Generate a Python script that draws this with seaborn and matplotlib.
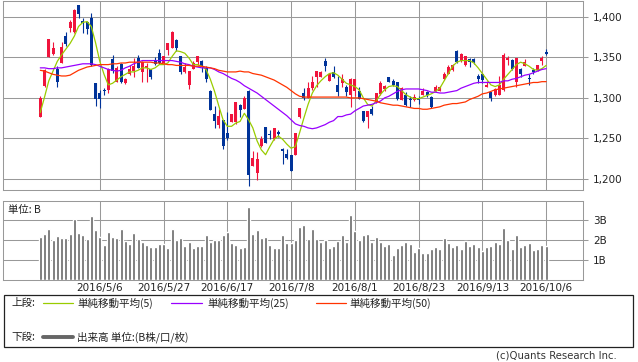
import numpy as np
import pandas as pd
import matplotlib
matplotlib.use('Agg')
import matplotlib.pyplot as plt
import seaborn as sns
from matplotlib.patches import Rectangle
from matplotlib.lines import Line2D

# daily candles (trading days, index 0 = first day shown)
opens = [1277, 1315, 1350, 1354, 1336, 1343, 1376, 1386, 1381, 1414,
         1395, 1394, 1398, 1318, 1306, 1310, 1310, 1348, 1320, 1342,
         1318, 1330, 1333, 1349, 1332, 1337, 1335, 1346, 1355, 1343,
         1359, 1362, 1371, 1352, 1332, 1316, 1336, 1344, 1345, 1337,
         1309, 1280, 1267, 1273, 1257, 1270, 1270, 1291, 1286, 1309,
         1216, 1208, 1241, 1264, 1255, 1249, 1258, 1237, 1231, 1230,
         1230, 1277, 1306, 1300, 1312, 1326, 1326, 1345, 1321, 1332,
         1316, 1318, 1314, 1303, 1309, 1308, 1284, 1277, 1286, 1295,
         1305, 1311, 1326, 1321, 1319, 1298, 1303, 1299, 1297, 1300,
         1304, 1307, 1301, 1309, 1309, 1323, 1330, 1334, 1358, 1345,
         1341, 1348, 1348, 1327, 1329, 1314, 1307, 1304, 1304, 1310,
         1347, 1347, 1320, 1336, 1339, 1324, 1334, 1334, 1345, 1356]
highs = [1302, 1335, 1372, 1369, 1339, 1369, 1381, 1396, 1409, 1414,
         1399, 1395, 1405, 1318, 1310, 1312, 1337, 1353, 1339, 1343,
         1324, 1341, 1349, 1353, 1345, 1343, 1335, 1350, 1360, 1352,
         1368, 1382, 1372, 1352, 1343, 1333, 1345, 1352, 1347, 1339,
         1310, 1290, 1286, 1273, 1282, 1280, 1295, 1292, 1302, 1310,
         1234, 1233, 1253, 1264, 1261, 1263, 1260, 1238, 1237, 1230,
         1257, 1288, 1312, 1319, 1327, 1333, 1333, 1349, 1330, 1339,
         1327, 1329, 1316, 1325, 1323, 1314, 1284, 1284, 1290, 1306,
         1321, 1316, 1326, 1323, 1320, 1314, 1307, 1302, 1305, 1302,
         1312, 1308, 1302, 1316, 1315, 1332, 1340, 1342, 1359, 1355,
         1351, 1349, 1349, 1330, 1331, 1321, 1307, 1312, 1327, 1355,
         1351, 1348, 1349, 1337, 1348, 1329, 1337, 1341, 1351, 1360]
lows = [1277, 1313, 1350, 1353, 1313, 1343, 1364, 1381, 1380, 1399,
        1380, 1379, 1339, 1290, 1288, 1304, 1306, 1331, 1320, 1318,
        1317, 1328, 1326, 1337, 1319, 1319, 1323, 1341, 1342, 1342,
        1353, 1362, 1358, 1329, 1331, 1311, 1335, 1341, 1332, 1320,
        1285, 1263, 1263, 1237, 1248, 1270, 1268, 1277, 1286, 1192,
        1216, 1199, 1239, 1245, 1249, 1248, 1252, 1219, 1225, 1210,
        1230, 1275, 1297, 1300, 1310, 1314, 1326, 1333, 1321, 1325,
        1302, 1314, 1302, 1289, 1302, 1299, 1270, 1263, 1279, 1294,
        1304, 1309, 1319, 1315, 1298, 1298, 1290, 1289, 1296, 1292,
        1303, 1301, 1288, 1308, 1308, 1322, 1329, 1333, 1343, 1344,
        1339, 1338, 1342, 1318, 1318, 1314, 1296, 1302, 1304, 1309,
        1341, 1334, 1314, 1326, 1339, 1316, 1330, 1333, 1340, 1353]
closes = [1300, 1334, 1372, 1362, 1320, 1363, 1366, 1394, 1408, 1403,
          1392, 1385, 1341, 1299, 1299, 1308, 1335, 1333, 1337, 1320,
          1323, 1336, 1339, 1337, 1344, 1339, 1326, 1342, 1343, 1351,
          1368, 1381, 1362, 1332, 1338, 1333, 1343, 1352, 1339, 1323,
          1285, 1271, 1278, 1241, 1250, 1280, 1295, 1285, 1300, 1205,
          1226, 1225, 1249, 1245, 1254, 1263, 1256, 1234, 1226, 1210,
          1257, 1288, 1300, 1312, 1319, 1333, 1332, 1339, 1329, 1326,
          1307, 1323, 1307, 1323, 1323, 1299, 1271, 1284, 1280, 1306,
          1318, 1315, 1320, 1316, 1299, 1312, 1291, 1298, 1301, 1298,
          1309, 1304, 1289, 1314, 1314, 1330, 1338, 1341, 1344, 1354,
          1351, 1344, 1344, 1323, 1322, 1316, 1300, 1311, 1316, 1353,
          1349, 1335, 1349, 1330, 1344, 1323, 1332, 1340, 1349, 1354]

# moving averages as drawn on the chart
ma5 = [1282, 1301, 1321, 1333, 1345, 1353, 1360, 1367, 1376, 1388,
       1393, 1394, 1388, 1368, 1345, 1329, 1316, 1318, 1322, 1326,
       1329, 1332, 1332, 1334, 1337, 1337, 1335, 1337, 1341, 1341,
       1343, 1351, 1358, 1357, 1355, 1349, 1341, 1341, 1339, 1335,
       1323, 1308, 1290, 1273, 1265, 1265, 1269, 1271, 1281, 1273,
       1263, 1247, 1236, 1230, 1240, 1249, 1253, 1249, 1243, 1238,
       1240, 1257, 1275, 1292, 1306, 1315, 1321, 1326, 1330, 1331,
       1328, 1323, 1318, 1316, 1314, 1310, 1300, 1292, 1290, 1296,
       1304, 1310, 1314, 1315, 1314, 1309, 1304, 1301, 1299, 1299,
       1301, 1303, 1305, 1308, 1312, 1321, 1330, 1339, 1344, 1346,
       1346, 1346, 1343, 1337, 1330, 1323, 1316, 1314, 1316, 1323,
       1329, 1335, 1341, 1344, 1342, 1339, 1335, 1334, 1336, 1340]
ma25 = [1337, 1337, 1336, 1336, 1337, 1337, 1338, 1339, 1340, 1341,
        1342, 1342, 1342, 1341, 1339, 1337, 1335, 1334, 1333, 1334,
        1337, 1339, 1342, 1344, 1346, 1346, 1346, 1346, 1346, 1346,
        1346, 1346, 1345, 1344, 1342, 1341, 1339, 1338, 1337, 1337,
        1337, 1335, 1332, 1330, 1327, 1324, 1322, 1319, 1315, 1312,
        1309, 1306, 1302, 1298, 1294, 1290, 1286, 1282, 1278, 1273,
        1268, 1266, 1265, 1263, 1262, 1263, 1265, 1267, 1270, 1272,
        1277, 1277, 1279, 1280, 1284, 1287, 1290, 1291, 1292, 1294,
        1296, 1300, 1302, 1305, 1308, 1310, 1311, 1311, 1311, 1311,
        1310, 1309, 1307, 1307, 1306, 1306, 1307, 1308, 1309, 1312,
        1314, 1316, 1318, 1319, 1319, 1319, 1319, 1319, 1319, 1321,
        1321, 1323, 1324, 1326, 1328, 1329, 1331, 1333, 1335, 1336]
ma50 = [1334, 1333, 1331, 1329, 1328, 1327, 1327, 1328, 1331, 1334,
        1336, 1338, 1339, 1340, 1341, 1341, 1341, 1342, 1342, 1343,
        1343, 1344, 1344, 1344, 1344, 1344, 1344, 1343, 1343, 1342,
        1341, 1341, 1340, 1340, 1340, 1340, 1339, 1339, 1339, 1338,
        1337, 1336, 1334, 1333, 1332, 1332, 1332, 1333, 1332, 1332,
        1330, 1329, 1328, 1326, 1324, 1322, 1319, 1316, 1313, 1309,
        1305, 1302, 1301, 1301, 1301, 1301, 1301, 1301, 1301, 1301,
        1301, 1301, 1301, 1300, 1300, 1300, 1299, 1298, 1297, 1296,
        1294, 1293, 1292, 1291, 1291, 1290, 1289, 1288, 1287, 1287,
        1286, 1286, 1287, 1288, 1289, 1291, 1292, 1293, 1293, 1294,
        1295, 1298, 1300, 1302, 1305, 1306, 1308, 1310, 1311, 1312,
        1313, 1314, 1315, 1316, 1317, 1318, 1319, 1319, 1320, 1320]

# volume in billions (B)
volumes = [2.15, 2.32, 2.55, 2.00, 2.22, 2.10, 2.10, 2.32, 3.05, 2.37,
           2.27, 2.05, 3.22, 2.50, 2.15, 1.77, 2.42, 2.17, 2.10, 2.55,
           1.97, 1.82, 2.35, 2.05, 1.92, 1.77, 1.67, 1.67, 1.82, 1.82,
           1.62, 2.55, 2.02, 2.10, 1.72, 1.90, 1.62, 1.72, 1.72, 2.27,
           1.92, 2.02, 2.00, 2.27, 2.42, 1.87, 1.77, 1.62, 1.67, 3.67,
           2.32, 2.52, 2.10, 2.17, 1.77, 1.62, 1.62, 2.27, 1.87, 1.87,
           2.00, 2.67, 2.77, 2.05, 2.55, 2.05, 1.92, 2.00, 1.62, 1.72,
           1.97, 2.27, 1.92, 3.27, 2.45, 2.00, 2.27, 2.32, 1.92, 2.17,
           1.92, 1.72, 1.82, 1.27, 1.62, 1.77, 1.92, 1.82, 1.42, 1.62,
           1.37, 1.37, 1.57, 1.67, 1.57, 2.10, 1.87, 1.67, 1.77, 1.57,
           1.97, 1.72, 1.82, 1.67, 1.47, 1.67, 1.72, 1.92, 1.82, 2.62,
           2.00, 1.57, 2.27, 1.67, 1.77, 1.87, 1.52, 1.57, 1.77, 1.72]

tick_days = [14, 29, 44, 59, 74, 89, 104, 119]
tick_labels = ['2016/5/6', '2016/5/27', '2016/6/17', '2016/7/8',
               '2016/8/1', '2016/8/23', '2016/9/13', '2016/10/6']
price_ticks = [1200, 1250, 1300, 1350, 1400]
vol_ticks = [1, 2, 3]

RED = '#f0143c'
BLUE = '#003399'
GRID = '#999999'
MA_COLORS = {'5': '#99cc00', '25': '#9900ff', '50': '#ff3300'}
JP = ['Noto Sans CJK JP', 'DejaVu Sans']

sns.set_style('white')
plt.rcParams['font.family'] = ['DejaVu Sans', 'Noto Sans CJK JP']

W, H = 638, 362


def box(x0, y0, x1, y1):
    # pixel box -> figure fraction
    return [x0 / W, 1 - y1 / H, (x1 - x0) / W, (y1 - y0) / H]


fig = plt.figure(figsize=(W / 100, H / 100), dpi=100)
ax1 = fig.add_axes(box(3.3, 0.5, 582.7, 190))
ax2 = fig.add_axes(box(3.3, 201, 582.7, 280))

df = pd.DataFrame({'day': np.arange(len(closes)), 'open': opens, 'high': highs,
                   'low': lows, 'close': closes, 'volume': volumes})
df['color'] = np.where(df['close'] >= df['open'], RED, BLUE)

# candles
ax1.vlines(df['day'], df['low'], df['high'], colors=df['color'], lw=0.8, zorder=2)
body_lo = df[['open', 'close']].min(axis=1)
body_h = (df['close'] - df['open']).abs().clip(lower=1.0)
ax1.bar(df['day'], body_h, bottom=body_lo, width=0.72, color=df['color'],
        linewidth=0, zorder=3)

# moving averages
ma = pd.DataFrame({'day': df['day'], '5': ma5, '25': ma25, '50': ma50})
ma = ma.melt(id_vars='day', var_name='span', value_name='price')
sns.lineplot(data=ma, x='day', y='price', hue='span', palette=MA_COLORS,
             linewidth=0.9, legend=False, ax=ax1, zorder=4)

ax1.set_xlim(-8.7, 127.6)
ax1.set_ylim(1186.5, 1420)
ax1.set_xticks(tick_days)
ax1.set_xticklabels([])
ax1.set_yticks(price_ticks)
ax1.set_yticklabels([f'{p:,}' for p in price_ticks])
ax1.yaxis.tick_right()
ax1.set_xlabel('')
ax1.set_ylabel('')

# volume
sns.barplot(x=df['day'], y=df['volume'], native_scale=True, color='#666666',
            saturation=1, width=0.7, errorbar=None, ax=ax2, zorder=3)
ax2.set_xlim(-8.7, 127.6)
ax2.set_ylim(0, 3.95)
ax2.set_xticks(tick_days)
ax2.set_xticklabels(tick_labels)
ax2.set_yticks(vol_ticks)
ax2.set_yticklabels([f'{v}B' for v in vol_ticks])
ax2.yaxis.tick_right()
ax2.set_xlabel('')
ax2.set_ylabel('')
ax2.text(0.008, 0.885, '単位: B', transform=ax2.transAxes, ha='left', va='center',
         fontsize=7.5, family=JP, color='#222222')

for ax in (ax1, ax2):
    ax.grid(True, color=GRID, lw=0.75)
    ax.set_axisbelow(True)
    for s in ax.spines.values():
        s.set_color(GRID)
        s.set_linewidth(0.75)
    ax.tick_params(axis='y', length=3.3, width=0.75, color=GRID, pad=4,
                   labelsize=7.5, labelcolor='#222222')
    ax.tick_params(axis='x', length=0, pad=2.5, labelsize=7.5, labelcolor='#222222')

# legend box
fig.patches.append(Rectangle((4 / W, 1 - 347 / H), 629 / W, 52 / H, transform=fig.transFigure,
                             fill=False, edgecolor='#222222', lw=0.9))
row1, row2 = 1 - 303 / H, 1 - 337 / H
fig.text(11 / W, row1, '上段:', family=JP, fontsize=7.6, va='center', color='#222222')
fig.text(11 / W, row2, '下段:', family=JP, fontsize=7.6, va='center', color='#222222')
for (x0, x1, tx), (span, c) in zip([(43, 73, 77), (171, 202, 207), (316, 346, 349)],
                                   MA_COLORS.items()):
    fig.lines.append(Line2D([x0 / W, x1 / W], [row1, row1], transform=fig.transFigure,
                            color=c, lw=0.9))
    fig.text(tx / W, row1, f'単純移動平均({span})', family=JP, fontsize=7.6,
             va='center', color='#222222')
fig.lines.append(Line2D([43 / W, 73 / W], [row2, row2], transform=fig.transFigure,
                        color='#666666', lw=2.8))
fig.text(77 / W, row2, '出来高 単位:(B株/口/枚)', family=JP, fontsize=7.6,
         va='center', color='#222222')
fig.text(617 / W, 1 - 356 / H, '(c)Quants Research Inc.', ha='right', va='center',
         fontsize=7.3, color='#333333')

fig.savefig('out.png', dpi=100)
